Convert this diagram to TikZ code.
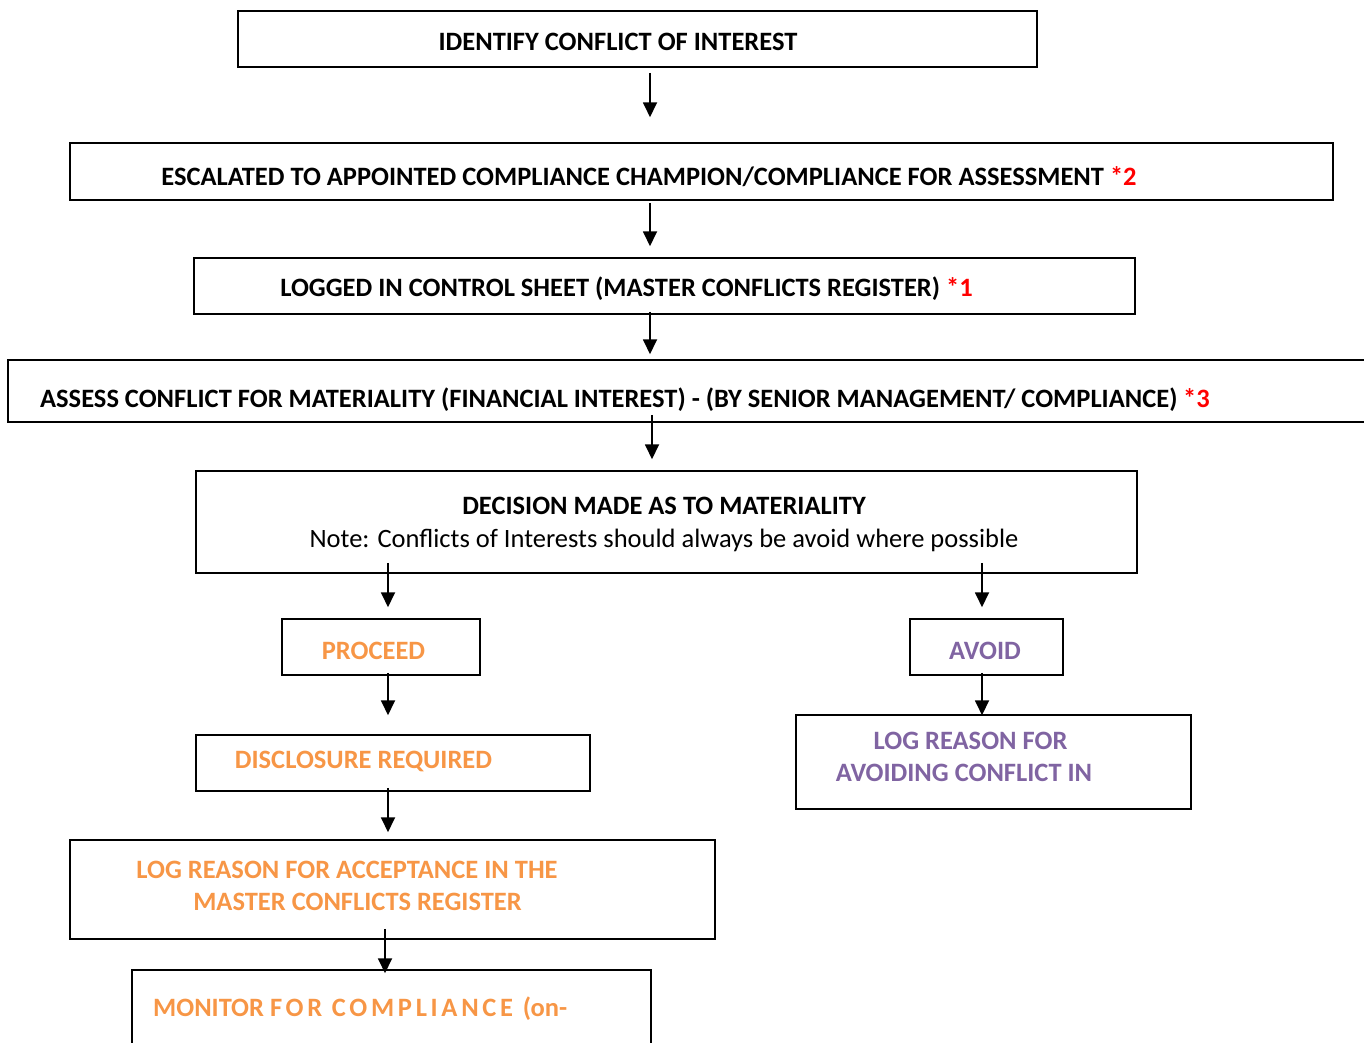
\documentclass[tikz,border=0pt]{standalone}
\usepackage{fontspec}
\setmainfont{Carlito}
\usepackage{tikz}
\usetikzlibrary{positioning,arrows.meta}
\definecolor{accorange}{RGB}{247,150,70}
\definecolor{accpurple}{RGB}{128,100,162}
\definecolor{accred}{RGB}{255,0,0}

\begin{document}
\begin{tikzpicture}[x=1pt, y=-1pt, >={Triangle[width=14pt,length=15pt]},
			box/.style={draw, line width=1.5pt, inner sep=0pt},
			txt/.style={inner sep=0pt, anchor=base, font=\fontsize{26.5}{32}\selectfont\bfseries},
			note/.style={inner sep=0pt, anchor=base, font=\fontsize{26.5}{32}\selectfont},
			arr/.style={->, line width=1.8pt}]

			\useasboundingbox (0,0) rectangle (1364,1042);

			% boxes
			\node[box, minimum width=799, minimum height=56] (A) at (637.5,39) {};
			\node[box, minimum width=1263, minimum height=57] (B) at (701.5,171.5) {};
			\node[box, minimum width=941, minimum height=56] (C) at (664.5,286) {};
			\node[box, minimum width=1372, minimum height=62] (D) at (694,391) {};
			\node[box, minimum width=941, minimum height=102] (E) at (666.5,522) {};
			\node[box, minimum width=198, minimum height=56] (F) at (381,647) {};
			\node[box, minimum width=153, minimum height=56] (G) at (986.5,647) {};
			\node[box, minimum width=394, minimum height=56] (H) at (393,763) {};
			\node[box, minimum width=395, minimum height=94] (I) at (993.5,762) {};
			\node[box, minimum width=645, minimum height=99] (J) at (392.5,889.5) {};
			\node[box, minimum width=519, minimum height=100] (K) at (391.5,1020) {};

			% texts
			\node[txt] (tA) at (618,50) {IDENTIFY CONFLICT OF INTEREST};
			\node[txt] (tB) at (649,185) {ESCALATED TO APPOINTED COMPLIANCE CHAMPION/COMPLIANCE FOR ASSESSMENT {\color{accred}*2}};
			\node[txt] (tC) at (626.5,296) {LOGGED IN CONTROL SHEET (MASTER CONFLICTS REGISTER) {\color{accred}*1}};
			\node[txt] (tD) at (625,407) {ASSESS CONFLICT FOR MATERIALITY (FINANCIAL INTEREST) - (BY SENIOR MANAGEMENT/ COMPLIANCE) {\color{accred}*3}};
			\node[txt] (tE1) at (664,514) {DECISION MADE AS TO MATERIALITY};
			\node[note] (tE2) at (664,547) {Note: Conflicts of Interests should always be avoid where possible};
			\node[txt, text=accorange] (tF) at (373.5,659) {PROCEED};
			\node[txt, text=accpurple] (tG) at (985,659) {AVOID};
			\node[txt, text=accorange] (tH) at (363.5,768) {DISCLOSURE REQUIRED};
			\node[txt, text=accpurple] (tI1) at (970.5,749) {LOG REASON FOR};
			\node[txt, text=accpurple] (tI2) at (964,781) {AVOIDING CONFLICT IN};
			\node[txt, text=accorange] (tJ1) at (347,878) {LOG REASON FOR ACCEPTANCE IN THE};
			\node[txt, text=accorange] (tJ2) at (357.5,910) {MASTER CONFLICTS REGISTER};
			\node[txt, text=accorange, anchor=base west] (tK) at (153,1016) {MONITOR {\addfontfeatures{LetterSpace=14}FOR COMPLIANCE }(on-};

			% arrows
			\draw[arr] ([xshift=12.5pt,yshift=-5pt]A.south) -- ([xshift=-51.5pt,yshift=25pt]B.north);
			\draw[arr] ([xshift=-51.5pt,yshift=-2pt]B.south) -- ([xshift=-14.5pt,yshift=11pt]C.north);
			\draw[arr] ([xshift=-14.5pt,yshift=3pt]C.south) -- ([xshift=-44pt,yshift=5pt]D.north);
			\draw[arr] ([xshift=-42pt,yshift=8pt]D.south) -- ([xshift=-14.5pt,yshift=11pt]E.north);
			\draw[arr] ([xshift=-278.5pt,yshift=11pt]E.south) -- ([xshift=7pt,yshift=11pt]F.north);
			\draw[arr] ([xshift=315.5pt,yshift=11pt]E.south) -- ([xshift=-4.5pt,yshift=11pt]G.north);
			\draw[arr] ([xshift=7pt,yshift=3pt]F.south) -- ([xshift=-5pt,yshift=19pt]H.north);
			\draw[arr] ([xshift=-4.5pt,yshift=3pt]G.south) -- ([xshift=-11.5pt,yshift=-1pt]I.north);
			\draw[arr] ([xshift=-5pt,yshift=4pt]H.south) -- ([xshift=-4.5pt,yshift=7pt]J.north);
			\draw[arr] ([xshift=-7.5pt,yshift=11pt]J.south) -- ([xshift=-6.5pt,yshift=-4pt]K.north);
	\end{tikzpicture}
\end{document}
